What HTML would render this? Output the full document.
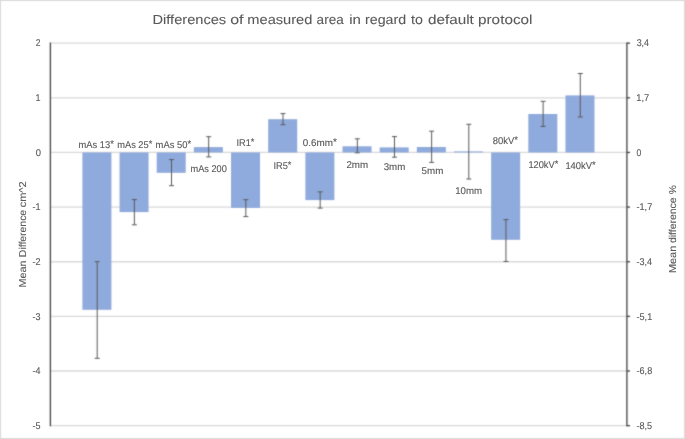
<!DOCTYPE html>
<html><head><meta charset="utf-8"><title>Differences of measured area</title>
<style>html,body{margin:0;padding:0;background:#fff;}svg{display:block;will-change:transform;text-rendering:geometricPrecision;font-family:"Liberation Sans",sans-serif;}</style>
</head><body><svg width="685" height="439" viewBox="0 0 685 439"><defs><filter id="b" filterUnits="userSpaceOnUse" x="0" y="0" width="685" height="439" color-interpolation-filters="sRGB"><feConvolveMatrix order="3" kernelMatrix="0.0225 0.1050 0.0225 0.1050 0.4900 0.1050 0.0225 0.1050 0.0225" edgeMode="duplicate"/></filter></defs><g filter="url(#b)"><rect x="0.5" y="0.5" width="684" height="438" fill="#fff" stroke="#d9d9d9" stroke-width="1"/><line x1="50.5" x2="626.5" y1="43.17" y2="43.17" stroke="#d9d9d9" stroke-width="1.33"/><line x1="50.5" x2="626.5" y1="97.81" y2="97.81" stroke="#d9d9d9" stroke-width="1.33"/><line x1="50.5" x2="626.5" y1="152.45" y2="152.45" stroke="#d9d9d9" stroke-width="1.33"/><line x1="50.5" x2="626.5" y1="207.09" y2="207.09" stroke="#d9d9d9" stroke-width="1.33"/><line x1="50.5" x2="626.5" y1="261.73" y2="261.73" stroke="#d9d9d9" stroke-width="1.33"/><line x1="50.5" x2="626.5" y1="316.37" y2="316.37" stroke="#d9d9d9" stroke-width="1.33"/><line x1="50.5" x2="626.5" y1="371.01" y2="371.01" stroke="#d9d9d9" stroke-width="1.33"/><line x1="50.5" x2="626.5" y1="425.65" y2="425.65" stroke="#d9d9d9" stroke-width="1.33"/><rect x="82.40" y="152.45" width="29" height="157.35" fill="#8faadc"/><rect x="119.56" y="152.45" width="29" height="59.65" fill="#8faadc"/><rect x="156.72" y="152.45" width="29" height="20.35" fill="#8faadc"/><rect x="193.88" y="147.10" width="29" height="5.35" fill="#8faadc"/><rect x="231.04" y="152.45" width="29" height="55.45" fill="#8faadc"/><rect x="268.20" y="119.20" width="29" height="33.25" fill="#8faadc"/><rect x="305.36" y="152.45" width="29" height="47.65" fill="#8faadc"/><rect x="342.52" y="146.30" width="29" height="6.15" fill="#8faadc"/><rect x="379.68" y="147.40" width="29" height="5.05" fill="#8faadc"/><rect x="416.84" y="147.00" width="29" height="5.45" fill="#8faadc"/><rect x="454.00" y="151.40" width="29" height="1.05" fill="#8faadc"/><rect x="491.16" y="152.45" width="29" height="87.35" fill="#8faadc"/><rect x="528.32" y="114.00" width="29" height="38.45" fill="#8faadc"/><rect x="565.48" y="95.40" width="29" height="57.05" fill="#8faadc"/><path d="M97.20 261.70V358.30M94.70 261.70H99.70M94.70 358.30H99.70" stroke="#595959" stroke-width="1.0" fill="none"/><path d="M134.36 199.60V224.80M131.86 199.60H136.86M131.86 224.80H136.86" stroke="#595959" stroke-width="1.0" fill="none"/><path d="M171.52 159.60V185.70M169.02 159.60H174.02M169.02 185.70H174.02" stroke="#595959" stroke-width="1.0" fill="none"/><path d="M208.68 136.70V156.90M206.18 136.70H211.18M206.18 156.90H211.18" stroke="#595959" stroke-width="1.0" fill="none"/><path d="M245.84 199.70V216.60M243.34 199.70H248.34M243.34 216.60H248.34" stroke="#595959" stroke-width="1.0" fill="none"/><path d="M283.00 113.60V124.70M280.50 113.60H285.50M280.50 124.70H285.50" stroke="#595959" stroke-width="1.0" fill="none"/><path d="M320.16 191.90V208.10M317.66 191.90H322.66M317.66 208.10H322.66" stroke="#595959" stroke-width="1.0" fill="none"/><path d="M357.32 138.80V152.80M354.82 138.80H359.82M354.82 152.80H359.82" stroke="#595959" stroke-width="1.0" fill="none"/><path d="M394.48 136.60V157.20M391.98 136.60H396.98M391.98 157.20H396.98" stroke="#595959" stroke-width="1.0" fill="none"/><path d="M431.64 131.20V162.40M429.14 131.20H434.14M429.14 162.40H434.14" stroke="#595959" stroke-width="1.0" fill="none"/><path d="M468.80 124.30V179.00M466.30 124.30H471.30M466.30 179.00H471.30" stroke="#595959" stroke-width="1.0" fill="none"/><path d="M505.96 219.60V261.50M503.46 219.60H508.46M503.46 261.50H508.46" stroke="#595959" stroke-width="1.0" fill="none"/><path d="M543.12 101.30V126.40M540.62 101.30H545.62M540.62 126.40H545.62" stroke="#595959" stroke-width="1.0" fill="none"/><path d="M580.28 73.50V117.00M577.78 73.50H582.78M577.78 117.00H582.78" stroke="#595959" stroke-width="1.0" fill="none"/><line x1="50.4" x2="50.4" y1="42.50" y2="426.31" stroke="#464646" stroke-width="1.33"/><line x1="626.9" x2="626.9" y1="42.50" y2="426.31" stroke="#464646" stroke-width="1.33"/><line x1="626.9" x2="630" y1="43.17" y2="43.17" stroke="#464646" stroke-width="1.33"/><line x1="626.9" x2="630" y1="97.81" y2="97.81" stroke="#464646" stroke-width="1.33"/><line x1="626.9" x2="630" y1="152.45" y2="152.45" stroke="#464646" stroke-width="1.33"/><line x1="626.9" x2="630" y1="207.09" y2="207.09" stroke="#464646" stroke-width="1.33"/><line x1="626.9" x2="630" y1="261.73" y2="261.73" stroke="#464646" stroke-width="1.33"/><line x1="626.9" x2="630" y1="316.37" y2="316.37" stroke="#464646" stroke-width="1.33"/><line x1="626.9" x2="630" y1="371.01" y2="371.01" stroke="#464646" stroke-width="1.33"/><line x1="626.9" x2="630" y1="425.65" y2="425.65" stroke="#464646" stroke-width="1.33"/></g><g font-family="Liberation Sans, sans-serif" fill="#595959" stroke="#595959" stroke-width="0.12"><text x="152.51" y="23.60" font-size="13.2" textLength="73.62" lengthAdjust="spacingAndGlyphs" stroke-width="0.08">Differences</text><text x="230.23" y="23.60" font-size="13.2" textLength="13.35" lengthAdjust="spacingAndGlyphs" stroke-width="0.08">of</text><text x="247.33" y="23.60" font-size="13.2" textLength="65.01" lengthAdjust="spacingAndGlyphs" stroke-width="0.08">measured</text><text x="316.63" y="23.60" font-size="13.2" textLength="27.07" lengthAdjust="spacingAndGlyphs" stroke-width="0.08">area</text><text x="349.20" y="23.60" font-size="13.2" textLength="11.68" lengthAdjust="spacingAndGlyphs" stroke-width="0.08">in</text><text x="365.06" y="23.60" font-size="13.2" textLength="41.06" lengthAdjust="spacingAndGlyphs" stroke-width="0.08">regard</text><text x="410.98" y="23.60" font-size="13.2" textLength="11.92" lengthAdjust="spacingAndGlyphs" stroke-width="0.08">to</text><text x="427.96" y="23.60" font-size="13.2" textLength="45.85" lengthAdjust="spacingAndGlyphs" stroke-width="0.08">default</text><text x="478.01" y="23.60" font-size="13.2" textLength="54.51" lengthAdjust="spacingAndGlyphs" stroke-width="0.08">protocol</text><text x="78.58" y="147.70" font-size="9.8" textLength="35.27" lengthAdjust="spacingAndGlyphs">mAs 13<tspan dy="-1.0">*</tspan></text><text x="117.29" y="147.70" font-size="9.8" textLength="34.96" lengthAdjust="spacingAndGlyphs">mAs 25<tspan dy="-1.0">*</tspan></text><text x="155.58" y="147.70" font-size="9.8" textLength="35.47" lengthAdjust="spacingAndGlyphs">mAs 50<tspan dy="-1.0">*</tspan></text><text x="190.49" y="172.40" font-size="9.8" textLength="36.27" lengthAdjust="spacingAndGlyphs">mAs 200</text><text x="236.45" y="145.90" font-size="9.8" textLength="17.89" lengthAdjust="spacingAndGlyphs">IR1<tspan dy="-1.0">*</tspan></text><text x="273.45" y="168.80" font-size="9.8" textLength="17.89" lengthAdjust="spacingAndGlyphs">IR5<tspan dy="-1.0">*</tspan></text><text x="302.71" y="146.10" font-size="9.8" textLength="34.04" lengthAdjust="spacingAndGlyphs">0.6mm<tspan dy="-1.0">*</tspan></text><text x="346.41" y="168.20" font-size="9.8" textLength="21.74" lengthAdjust="spacingAndGlyphs">2mm</text><text x="383.63" y="170.20" font-size="9.8" textLength="21.61" lengthAdjust="spacingAndGlyphs">3mm</text><text x="421.61" y="174.20" font-size="9.8" textLength="21.74" lengthAdjust="spacingAndGlyphs">5mm</text><text x="455.16" y="194.00" font-size="9.8" textLength="26.87" lengthAdjust="spacingAndGlyphs">10mm</text><text x="492.79" y="144.10" font-size="9.8" textLength="25.26" lengthAdjust="spacingAndGlyphs">80kV<tspan dy="-1.0">*</tspan></text><text x="528.39" y="168.20" font-size="9.8" textLength="29.95" lengthAdjust="spacingAndGlyphs">120kV<tspan dy="-1.0">*</tspan></text><text x="565.38" y="169.40" font-size="9.8" textLength="30.36" lengthAdjust="spacingAndGlyphs">140kV<tspan dy="-1.0">*</tspan></text><text x="35.67" y="46.37" font-size="9.8" textLength="4.76" lengthAdjust="spacingAndGlyphs">2</text><text x="35.41" y="101.01" font-size="9.8" textLength="5.03" lengthAdjust="spacingAndGlyphs">1</text><text x="35.63" y="155.65" font-size="9.8" textLength="5.24" lengthAdjust="spacingAndGlyphs">0</text><text x="32.55" y="210.29" font-size="9.8" textLength="8.10" lengthAdjust="spacingAndGlyphs">-1</text><text x="32.54" y="264.93" font-size="9.8" textLength="8.11" lengthAdjust="spacingAndGlyphs">-2</text><text x="32.55" y="319.57" font-size="9.8" textLength="8.05" lengthAdjust="spacingAndGlyphs">-3</text><text x="32.55" y="374.21" font-size="9.8" textLength="7.91" lengthAdjust="spacingAndGlyphs">-4</text><text x="32.55" y="428.85" font-size="9.8" textLength="8.03" lengthAdjust="spacingAndGlyphs">-5</text><text x="636.66" y="46.37" font-size="9.8" textLength="12.40" lengthAdjust="spacingAndGlyphs">3,4</text><text x="636.29" y="101.01" font-size="9.8" textLength="12.98" lengthAdjust="spacingAndGlyphs">1,7</text><text x="636.46" y="155.65" font-size="9.8" textLength="4.77" lengthAdjust="spacingAndGlyphs">0</text><text x="636.49" y="210.29" font-size="9.8" textLength="15.77" lengthAdjust="spacingAndGlyphs">-1,7</text><text x="636.50" y="264.93" font-size="9.8" textLength="15.57" lengthAdjust="spacingAndGlyphs">-3,4</text><text x="636.49" y="319.57" font-size="9.8" textLength="15.75" lengthAdjust="spacingAndGlyphs">-5,1</text><text x="636.50" y="374.21" font-size="9.8" textLength="15.70" lengthAdjust="spacingAndGlyphs">-6,8</text><text x="636.50" y="428.85" font-size="9.8" textLength="15.69" lengthAdjust="spacingAndGlyphs">-8,5</text><text transform="translate(26.00,0) rotate(-90)" x="-287.48" y="0" font-size="10.0" textLength="26.99" lengthAdjust="spacingAndGlyphs" stroke-width="0.1">Mean</text><text transform="translate(26.00,0) rotate(-90)" x="-257.15" y="0" font-size="10.0" textLength="47.31" lengthAdjust="spacingAndGlyphs" stroke-width="0.1">Difference</text><text transform="translate(26.00,0) rotate(-90)" x="-207.37" y="0" font-size="10.0" textLength="26.02" lengthAdjust="spacingAndGlyphs" stroke-width="0.1">cm^2</text><text transform="translate(676.00,0) rotate(-90)" x="-272.99" y="0" font-size="10.0" textLength="27.20" lengthAdjust="spacingAndGlyphs" stroke-width="0.1">Mean</text><text transform="translate(676.00,0) rotate(-90)" x="-243.04" y="0" font-size="10.0" textLength="45.50" lengthAdjust="spacingAndGlyphs" stroke-width="0.1">difference</text><text transform="translate(676.00,0) rotate(-90)" x="-194.37" y="0" font-size="10.0" textLength="9.13" lengthAdjust="spacingAndGlyphs" stroke-width="0.1">%</text></g></svg></body></html>
